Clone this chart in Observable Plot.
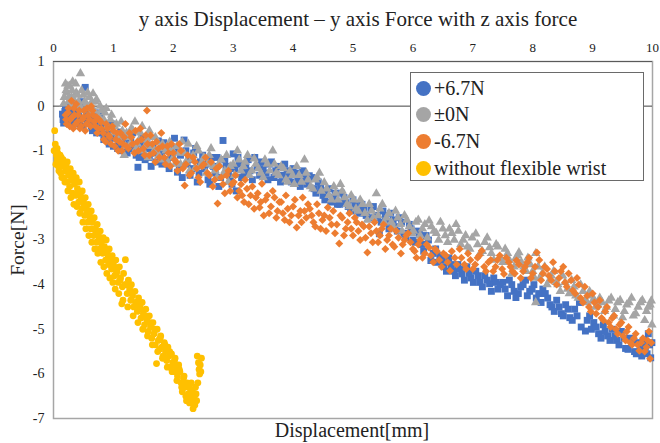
<!DOCTYPE html>
<html>
<head>
<meta charset="utf-8">
<script src="https://cdn.jsdelivr.net/npm/d3@7"></script>
<script src="https://cdn.jsdelivr.net/npm/@observablehq/plot@0.6"></script>
<style>
  html, body { margin: 0; padding: 0; background: #fff; }
  #wrap { position: relative; width: 660px; height: 443px; color: #222; }
  #wrap, #wrap div, #wrap svg, #wrap svg text { font-family: "Liberation Serif", "Times New Roman", Times, "DejaVu Serif", serif !important; }
  #title { position: absolute; left: 0; width: 716px; top: 7px; text-align: center; font-size: 21px; white-space: nowrap; }
  #xlabel { position: absolute; left: 252px; width: 200px; top: 419px; text-align: center; font-size: 20px; white-space: nowrap; }
  #ylabel { position: absolute; left: 18px; top: 240px; font-size: 19.5px; white-space: nowrap; transform: translate(-50%, -50%) rotate(-90deg); }
  #legend { position: absolute; left: 410px; top: 72px; width: 234px; height: 109px; border: 1px solid #6a6a6a; background: #fff; box-sizing: border-box; }
  .li { position: absolute; left: 5px; height: 26px; display: flex; align-items: center; font-size: 20px; white-space: nowrap; }
  .li span.m { display: inline-block; width: 15px; height: 15px; border-radius: 50%; margin-right: 3px; }
</style>
</head>
<body>
<div id="wrap">
  <div id="chart"></div>
  <div id="title"></div>
  <div id="xlabel"></div>
  <div id="ylabel"></div>
  <div id="legend"></div>
</div>
<script>
const titleText = "y axis Displacement – y axis Force with z axis force";
const xLabel = "Displacement[mm]";
const yLabel = "Force[N]";
const xTicks = [0,1,2,3,4,5,6,7,8,9,10];
const yTicks = [1,0,-1,-2,-3,-4,-5,-6,-7];
const seriesNames = ["+6.7N", "±0N", "-6.7N", "without flexible wrist"];
const seriesColors = ["#4472C4", "#A5A5A5", "#ED7D31", "#FFC000"];

const plus67 = [[0.15,-0.18],[0.17,-0.38],[0.2,0.0],[0.22,-0.25],[0.25,-0.1],[0.28,-0.4],[0.3,-0.2],[0.33,0.05],[0.36,-0.3],[0.4,-0.12],[0.43,-0.35],[0.46,0.1],[0.5,-0.28],[0.53,0.42],[0.56,-0.38],[0.6,-0.2],[0.63,-0.45],[0.67,-0.3],[0.7,-0.15],[0.74,-0.5],[0.78,-0.35],[0.82,-0.6],[0.86,-0.42],[0.9,-0.7],[0.95,-0.55],[1.0,-0.9],[1.05,-0.65],[1.1,-0.8],[1.15,-1.0],[1.2,-0.7],[1.26,-0.95],[1.32,-0.6],[1.38,-1.1],[1.41,-1.37],[1.45,-0.85],[1.5,-1.0],[1.56,-0.75],[1.6,-1.15],[1.66,-0.9],[1.72,-1.25],[1.78,-1.05],[1.84,-0.82],[1.9,-1.2],[1.96,-1.0],[2.02,-0.72],[2.07,-1.48],[2.12,-1.1],[2.18,-0.76],[2.23,-1.3],[2.28,-1.55],[2.34,-1.05],[2.4,-1.7],[2.45,-1.25],[2.52,-1.4],[2.58,-1.65],[2.64,-1.15],[2.7,-1.5],[2.76,-1.8],[2.83,-0.77],[2.88,-1.35],[2.95,-1.6],[3.0,-1.07],[3.05,-1.9],[3.1,-1.3],[3.18,-1.5],[3.25,-1.2],[3.32,-1.65],[3.4,-1.37],[3.47,-1.25],[3.55,-1.5],[3.6,-1.3],[3.68,-1.6],[3.75,-1.35],[3.82,-1.55],[3.9,-1.45],[3.97,-1.7],[4.05,-1.5],[4.12,-1.8],[4.2,-1.6],[4.27,-1.56],[4.35,-1.85],[4.42,-1.7],[4.5,-2.0],[4.56,-1.9],[4.63,-2.15],[4.7,-1.95],[4.78,-2.2],[4.85,-2.05],[4.92,-2.25],[5.0,-2.1],[5.08,-2.35],[5.15,-2.2],[5.22,-2.45],[5.3,-2.3],[5.38,-2.5],[5.44,-2.86],[5.5,-2.35],[5.57,-2.6],[5.63,-2.4],[5.7,-2.7],[5.77,-2.5],[5.85,-2.85],[5.94,-2.65],[6.0,-3.0],[6.08,-2.8],[6.15,-3.1],[6.22,-2.9],[6.3,-3.46],[6.38,-3.2],[6.45,-3.35],[6.52,-3.6],[6.6,-3.4],[6.68,-3.7],[6.75,-3.55],[6.82,-3.76],[6.9,-3.6],[6.97,-3.85],[7.05,-3.7],[7.12,-3.95],[7.2,-3.8],[7.28,-3.98],[7.35,-3.85],[7.42,-4.1],[7.5,-3.95],[7.58,-4.25],[7.65,-4.0],[7.72,-4.29],[7.8,-4.05],[7.88,-3.9],[7.95,-4.15],[8.02,-4.0],[8.1,-4.2],[8.17,-4.1],[8.25,-4.3],[8.32,-4.5],[8.4,-4.35],[8.48,-4.65],[8.55,-4.45],[8.62,-4.74],[8.7,-4.55],[8.78,-4.4],[8.88,-5.04],[8.95,-4.7],[9.02,-4.85],[9.1,-5.1],[9.18,-4.9],[9.25,-5.15],[9.33,-5.0],[9.4,-5.25],[9.48,-5.05],[9.55,-5.43],[9.62,-5.2],[9.7,-5.5],[9.76,-5.3],[9.82,-5.6],[9.88,-5.4],[9.93,-5.1],[9.97,-5.64],[9.99,-5.3],
[0.16,-0.3],[0.19,-0.12],[0.24,-0.35],[0.27,0.02],[0.31,-0.42],[0.35,-0.15],[0.38,-0.4],[0.42,-0.22],[0.45,-0.05],[0.49,-0.45],[0.55,-0.12],[0.58,-0.32],[0.62,-0.1],[0.65,-0.55],[0.69,-0.38],[0.72,-0.6],[0.77,-0.2],[0.8,-0.45],[0.84,-0.75],[0.88,-0.55],[0.93,-0.85],[0.97,-0.4],[1.02,-0.72],[1.07,-0.95],[1.12,-0.58],[1.18,-0.85],[1.23,-1.05],[1.29,-0.78],[1.35,-0.9],[1.43,-1.15],[1.48,-0.7],[1.53,-1.2],[1.58,-0.95],[1.63,-1.35],[1.69,-1.05],[1.75,-0.78],[1.81,-1.3],[1.87,-1.0],[1.93,-1.4],[1.99,-1.15],[2.05,-0.95],[2.1,-1.35],[2.15,-1.6],[2.21,-1.0],[2.26,-1.2],[2.31,-1.4],[2.37,-0.95],[2.43,-1.5],[2.49,-1.1],[2.55,-1.3],[2.61,-1.75],[2.67,-1.35],[2.73,-1.15],[2.79,-1.6],[2.86,-1.2],[2.92,-1.45],[2.98,-1.75],[3.03,-1.4],[3.08,-1.15],[3.14,-1.6],[3.21,-1.35],[3.28,-1.45],[3.36,-1.15],[3.44,-1.55],[3.5,-1.4],[3.58,-1.65],[3.64,-1.25],[3.71,-1.45],[3.79,-1.7],[3.86,-1.3],[3.93,-1.55],[4.0,-1.4],[4.08,-1.65],[4.16,-1.45],[4.23,-1.75],[4.31,-1.6],[4.38,-1.95],[4.46,-1.8],[4.53,-2.1],[4.6,-1.85],[4.67,-2.05],[4.74,-2.2],[4.81,-1.95],[4.88,-2.15],[4.96,-2.35],[5.04,-2.2],[5.11,-2.4],[5.18,-2.3],[5.26,-2.5],[5.34,-2.25],[5.41,-2.45],[5.47,-2.6],[5.54,-2.45],[5.6,-2.75],[5.67,-2.55],[5.74,-2.8],[5.81,-2.6],[5.88,-2.95],[5.97,-2.75],[6.04,-3.05],[6.11,-2.85],[6.18,-3.25],[6.26,-3.0],[6.34,-3.3],[6.41,-3.5],[6.49,-3.45],[6.56,-3.7],[6.64,-3.55],[6.71,-3.8],[6.79,-3.65],[6.86,-3.9],[6.94,-3.75],[7.01,-3.95],[7.09,-3.8],[7.16,-4.05],[7.24,-3.9],[7.31,-4.15],[7.39,-3.95],[7.46,-4.0],[7.54,-4.1],[7.61,-3.9],[7.69,-4.15],[7.76,-4.2],[7.84,-4.0],[7.91,-4.25],[7.99,-4.1],[8.06,-4.3],[8.14,-4.4],[8.21,-4.2],[8.29,-4.45],[8.36,-4.6],[8.44,-4.5],[8.51,-4.7],[8.59,-4.55],[8.66,-4.8],[8.74,-4.7],[8.81,-4.95],[8.91,-4.8],[8.98,-5.0],[9.06,-4.95],[9.14,-5.2],[9.21,-5.05],[9.29,-5.25],[9.37,-5.15],[9.44,-5.35],[9.52,-5.2],[9.59,-5.45],[9.66,-5.3],[9.73,-5.55],[9.8,-5.45],[9.86,-5.25],[9.91,-5.55],[9.95,-5.35]];

const zero = [[0.18,0.2],[0.2,0.5],[0.22,0.3],[0.25,0.1],[0.27,0.45],[0.3,0.2],[0.32,0.55],[0.35,0.0],[0.38,0.3],[0.42,0.1],[0.45,0.73],[0.48,-0.1],[0.5,0.25],[0.55,0.05],[0.6,0.2],[0.62,-0.15],[0.66,0.28],[0.7,0.1],[0.74,-0.2],[0.78,0.0],[0.82,-0.35],[0.86,-0.15],[0.9,-0.45],[0.95,-0.3],[1.0,-0.6],[1.05,-0.4],[1.1,-0.75],[1.15,-0.55],[1.2,-0.9],[1.25,-0.7],[1.3,-0.5],[1.36,-0.35],[1.4,-0.85],[1.45,-0.6],[1.5,-1.0],[1.55,-0.75],[1.6,-0.55],[1.65,-0.9],[1.7,-0.7],[1.76,-1.1],[1.82,-0.85],[1.88,-1.0],[1.94,-0.8],[2.0,-1.15],[2.06,-0.9],[2.12,-1.3],[2.18,-1.05],[2.25,-0.85],[2.3,-1.2],[2.36,-1.4],[2.42,-1.0],[2.48,-1.25],[2.55,-1.5],[2.6,-1.1],[2.67,-1.35],[2.73,-1.6],[2.8,-1.2],[2.86,-1.45],[2.92,-1.7],[3.0,-1.3],[3.07,-1.0],[3.13,-1.45],[3.2,-1.25],[3.27,-1.55],[3.35,-1.18],[3.42,-1.4],[3.5,-1.6],[3.57,-1.3],[3.66,-1.0],[3.72,-1.5],[3.8,-1.35],[3.88,-1.65],[3.95,-1.45],[4.02,-1.75],[4.1,-1.55],[4.19,-1.2],[4.25,-1.65],[4.33,-1.85],[4.4,-1.6],[4.47,-1.9],[4.52,-1.71],[4.6,-2.0],[4.68,-1.8],[4.75,-2.1],[4.82,-1.9],[4.9,-2.2],[4.97,-2.0],[5.05,-2.3],[5.12,-2.1],[5.2,-2.4],[5.27,-2.2],[5.34,-2.5],[5.39,-1.96],[5.45,-2.3],[5.52,-2.6],[5.6,-2.4],[5.67,-2.7],[5.75,-2.5],[5.82,-2.8],[5.9,-2.55],[5.98,-2.85],[6.05,-2.6],[6.12,-2.9],[6.2,-2.65],[6.27,-2.57],[6.35,-2.8],[6.43,-3.0],[6.5,-2.75],[6.58,-3.05],[6.65,-2.85],[6.72,-2.65],[6.8,-3.1],[6.88,-2.9],[6.95,-3.2],[7.05,-2.86],[7.12,-3.3],[7.2,-3.05],[7.28,-3.17],[7.35,-3.45],[7.42,-3.15],[7.5,-3.5],[7.58,-3.3],[7.65,-3.76],[7.72,-3.4],[7.77,-3.28],[7.85,-3.6],[7.92,-3.4],[8.0,-3.7],[8.05,-3.3],[8.05,-4.4],[8.12,-3.85],[8.2,-3.6],[8.28,-3.9],[8.35,-3.7],[8.42,-4.0],[8.5,-3.8],[8.58,-4.1],[8.65,-3.9],[8.72,-4.25],[8.8,-4.0],[8.88,-4.35],[8.95,-4.15],[9.0,-4.36],[9.05,-4.5],[9.12,-4.3],[9.2,-4.6],[9.27,-4.36],[9.35,-4.7],[9.42,-4.4],[9.5,-4.74],[9.57,-4.45],[9.65,-4.3],[9.72,-4.65],[9.8,-4.4],[9.87,-4.8],[9.93,-4.5],[9.98,-4.36],[9.99,-4.9],
[0.17,0.05],[0.21,0.35],[0.24,0.45],[0.26,0.2],[0.29,0.0],[0.31,0.35],[0.34,0.15],[0.37,0.5],[0.4,0.25],[0.44,0.0],[0.47,0.35],[0.52,0.1],[0.57,0.3],[0.59,-0.05],[0.64,0.1],[0.68,-0.1],[0.72,0.15],[0.76,-0.25],[0.8,-0.1],[0.84,-0.3],[0.88,-0.05],[0.92,-0.5],[0.97,-0.2],[1.02,-0.45],[1.08,-0.65],[1.13,-0.35],[1.18,-1.1],[1.22,-0.6],[1.28,-0.85],[1.33,-0.55],[1.38,-0.95],[1.43,-0.75],[1.48,-0.45],[1.53,-0.9],[1.58,-1.15],[1.63,-0.7],[1.68,-1.0],[1.73,-0.8],[1.79,-1.2],[1.85,-0.95],[1.91,-1.25],[1.97,-0.95],[2.03,-1.3],[2.09,-1.05],[2.15,-0.8],[2.21,-1.25],[2.27,-1.45],[2.33,-1.1],[2.39,-0.9],[2.45,-1.35],[2.51,-1.15],[2.57,-1.3],[2.63,-0.95],[2.7,-1.45],[2.76,-1.3],[2.83,-1.55],[2.89,-1.1],[2.95,-1.35],[3.02,-1.55],[3.1,-1.2],[3.17,-1.35],[3.24,-1.1],[3.31,-1.45],[3.38,-1.3],[3.46,-1.5],[3.53,-1.2],[3.61,-1.45],[3.69,-1.3],[3.76,-1.55],[3.84,-1.4],[3.91,-1.7],[3.99,-1.55],[4.06,-1.35],[4.14,-1.7],[4.22,-1.5],[4.29,-1.8],[4.37,-1.65],[4.44,-1.5],[4.56,-1.85],[4.64,-2.1],[4.71,-1.95],[4.79,-1.75],[4.86,-2.05],[4.94,-2.25],[5.01,-2.1],[5.09,-2.35],[5.16,-2.2],[5.24,-2.55],[5.31,-2.35],[5.42,-2.45],[5.49,-2.2],[5.56,-2.5],[5.64,-2.6],[5.71,-2.35],[5.79,-2.65],[5.86,-2.45],[5.94,-2.7],[6.01,-2.8],[6.09,-2.55],[6.16,-2.75],[6.24,-2.95],[6.31,-2.7],[6.39,-2.85],[6.46,-2.6],[6.54,-2.9],[6.61,-2.75],[6.69,-3.0],[6.76,-2.8],[6.84,-3.0],[6.91,-3.15],[6.99,-2.95],[7.08,-3.1],[7.16,-3.25],[7.24,-2.95],[7.31,-3.3],[7.39,-3.1],[7.46,-3.4],[7.54,-3.2],[7.61,-3.45],[7.69,-3.6],[7.75,-3.35],[7.81,-3.5],[7.89,-3.7],[7.96,-3.55],[8.03,-3.85],[8.09,-3.6],[8.16,-3.75],[8.24,-4.0],[8.31,-3.8],[8.39,-3.95],[8.46,-4.15],[8.54,-3.95],[8.61,-4.2],[8.69,-4.05],[8.76,-4.3],[8.84,-4.15],[8.91,-4.4],[8.98,-4.25],[9.03,-4.35],[9.09,-4.45],[9.16,-4.4],[9.23,-4.5],[9.31,-4.3],[9.38,-4.55],[9.46,-4.35],[9.53,-4.6],[9.61,-4.4],[9.68,-4.7],[9.76,-4.5],[9.83,-4.35],[9.9,-4.6],[9.96,-4.45]];

const minus67 = [[0.2,-0.2],[0.22,-0.4],[0.25,-0.05],[0.28,-0.3],[0.3,0.12],[0.33,-0.5],[0.35,-0.2],[0.38,0.05],[0.4,-0.35],[0.43,-0.1],[0.46,-0.45],[0.5,-0.25],[0.53,-0.55],[0.56,-0.05],[0.6,-0.3],[0.63,0.0],[0.66,-0.2],[0.7,-0.45],[0.73,-0.6],[0.76,-0.3],[0.8,-0.5],[0.84,-0.75],[0.88,-0.4],[0.92,-0.65],[0.96,-0.85],[1.0,-0.55],[1.04,-0.75],[1.08,-1.0],[1.12,-0.6],[1.16,-0.85],[1.2,-0.4],[1.25,-0.95],[1.3,-0.7],[1.35,-1.05],[1.4,-0.8],[1.45,-0.5],[1.5,-0.95],[1.54,-0.65],[1.56,-0.1],[1.6,-1.1],[1.65,-0.85],[1.7,-1.25],[1.75,-0.95],[1.8,-0.6],[1.85,-1.15],[1.9,-0.9],[1.95,-1.35],[2.0,-1.05],[2.05,-1.25],[2.1,-0.85],[2.16,-1.4],[2.19,-1.78],[2.24,-1.1],[2.3,-1.5],[2.36,-1.25],[2.42,-1.6],[2.48,-1.35],[2.54,-1.15],[2.6,-1.55],[2.66,-1.8],[2.72,-1.4],[2.74,-2.18],[2.8,-1.6],[2.86,-1.95],[2.92,-1.45],[2.98,-1.75],[3.04,-1.55],[3.1,-1.9],[3.15,-2.0],[3.2,-1.65],[3.26,-2.2],[3.32,-1.8],[3.38,-2.05],[3.44,-2.27],[3.48,-1.74],[3.54,-2.1],[3.6,-2.4],[3.66,-1.9],[3.72,-2.5],[3.77,-2.15],[3.83,-2.4],[3.88,-2.0],[3.94,-2.6],[4.0,-2.25],[4.06,-2.72],[4.12,-2.35],[4.16,-2.05],[4.22,-2.5],[4.28,-2.3],[4.34,-2.6],[4.4,-2.2],[4.46,-2.75],[4.52,-2.45],[4.58,-2.27],[4.64,-2.65],[4.7,-2.85],[4.77,-3.08],[4.82,-2.5],[4.88,-2.75],[4.94,-2.4],[5.0,-2.9],[5.06,-2.6],[5.12,-3.0],[5.18,-2.7],[5.24,-3.28],[5.3,-2.85],[5.36,-2.6],[5.42,-3.05],[5.48,-2.75],[5.54,-3.2],[5.6,-2.9],[5.66,-3.1],[5.72,-2.8],[5.8,-3.3],[5.86,-3.0],[5.92,-2.85],[6.0,-3.2],[6.06,-3.4],[6.12,-3.0],[6.2,-3.3],[6.27,-3.17],[6.34,-3.5],[6.4,-3.25],[6.48,-3.6],[6.55,-3.35],[6.62,-3.69],[6.7,-3.4],[6.78,-3.2],[6.86,-3.55],[6.92,-3.3],[7.0,-3.65],[7.08,-3.4],[7.15,-3.24],[7.22,-3.7],[7.3,-3.45],[7.38,-3.6],[7.45,-3.35],[7.52,-3.76],[7.6,-3.5],[7.66,-3.7],[7.73,-3.46],[7.8,-3.85],[7.87,-3.6],[7.94,-3.4],[8.0,-3.75],[8.07,-3.28],[8.14,-3.9],[8.2,-3.6],[8.27,-3.8],[8.34,-3.5],[8.4,-4.0],[8.47,-3.7],[8.54,-3.95],[8.6,-3.75],[8.67,-4.13],[8.74,-3.85],[8.8,-4.3],[8.87,-4.05],[8.94,-4.5],[9.0,-4.2],[9.06,-4.65],[9.12,-4.35],[9.18,-4.8],[9.24,-4.5],[9.3,-4.95],[9.36,-4.7],[9.42,-5.1],[9.48,-4.85],[9.55,-5.25],[9.6,-4.95],[9.66,-5.35],[9.72,-5.1],[9.78,-5.48],[9.84,-5.2],[9.9,-5.4],[9.94,-5.05],[9.96,-5.66],[9.98,-5.3],
[0.21,-0.3],[0.24,-0.15],[0.27,-0.45],[0.31,-0.25],[0.34,-0.05],[0.37,-0.4],[0.41,-0.2],[0.44,-0.5],[0.48,-0.3],[0.51,-0.1],[0.55,-0.4],[0.58,-0.2],[0.62,-0.45],[0.65,-0.1],[0.68,-0.35],[0.72,-0.25],[0.75,-0.5],[0.79,-0.35],[0.83,-0.6],[0.87,-0.8],[0.9,-0.5],[0.94,-0.7],[0.98,-0.45],[1.02,-0.9],[1.06,-0.6],[1.1,-0.8],[1.14,-1.0],[1.18,-0.7],[1.22,-0.9],[1.27,-0.6],[1.32,-0.85],[1.37,-0.55],[1.42,-1.0],[1.47,-0.75],[1.52,-1.1],[1.57,-0.85],[1.62,-0.65],[1.67,-1.05],[1.72,-0.8],[1.77,-1.15],[1.82,-0.9],[1.87,-1.3],[1.92,-1.05],[1.97,-0.85],[2.02,-1.2],[2.07,-1.45],[2.13,-1.0],[2.21,-1.3],[2.27,-1.55],[2.33,-1.15],[2.39,-1.4],[2.45,-1.7],[2.51,-1.3],[2.57,-1.5],[2.63,-1.25],[2.69,-1.65],[2.77,-1.35],[2.83,-1.75],[2.89,-1.55],[2.95,-1.9],[3.01,-1.7],[3.07,-2.05],[3.13,-1.75],[3.18,-2.15],[3.23,-1.85],[3.29,-2.0],[3.35,-2.3],[3.41,-1.95],[3.46,-2.15],[3.51,-2.45],[3.57,-2.0],[3.63,-2.25],[3.69,-2.05],[3.74,-2.35],[3.8,-2.15],[3.86,-2.55],[3.91,-2.3],[3.97,-2.45],[4.03,-2.1],[4.09,-2.45],[4.14,-2.6],[4.19,-2.35],[4.25,-2.2],[4.31,-2.45],[4.37,-2.7],[4.43,-2.4],[4.49,-2.55],[4.55,-2.8],[4.61,-2.5],[4.67,-2.35],[4.73,-2.65],[4.79,-2.45],[4.85,-2.9],[4.91,-2.6],[4.97,-2.75],[5.03,-2.5],[5.09,-2.8],[5.15,-2.65],[5.21,-2.95],[5.27,-2.7],[5.33,-3.05],[5.39,-2.8],[5.45,-2.9],[5.51,-2.65],[5.57,-3.0],[5.63,-2.75],[5.69,-3.15],[5.76,-2.95],[5.83,-3.1],[5.89,-2.9],[5.96,-3.05],[6.03,-3.25],[6.09,-3.1],[6.16,-3.4],[6.23,-3.1],[6.3,-3.35],[6.37,-3.2],[6.44,-3.45],[6.51,-3.3],[6.58,-3.5],[6.65,-3.25],[6.73,-3.55],[6.81,-3.4],[6.89,-3.65],[6.96,-3.45],[7.04,-3.55],[7.11,-3.35],[7.19,-3.6],[7.26,-3.5],[7.34,-3.7],[7.41,-3.45],[7.49,-3.65],[7.56,-3.4],[7.63,-3.6],[7.7,-3.75],[7.77,-3.55],[7.84,-3.7],[7.91,-3.5],[7.97,-3.85],[8.04,-3.6],[8.11,-3.45],[8.17,-3.75],[8.24,-3.65],[8.31,-3.9],[8.37,-3.7],[8.44,-3.85],[8.51,-3.6],[8.57,-4.05],[8.64,-3.9],[8.71,-4.2],[8.77,-4.0],[8.84,-4.4],[8.91,-4.25],[8.97,-4.6],[9.03,-4.4],[9.09,-4.5],[9.15,-4.75],[9.21,-4.6],[9.27,-4.85],[9.33,-4.75],[9.39,-5.0],[9.45,-4.9],[9.51,-5.15],[9.57,-5.05],[9.63,-5.3],[9.69,-5.2],[9.75,-5.35],[9.81,-5.3],[9.87,-5.5],[9.92,-5.25]];

const noWrist = [[0.02,-0.55],[0.03,-0.85],[0.05,-1.1],[0.06,-1.2],[0.08,-1.35],[0.07,-1.05],[0.1,-1.25],[0.12,-1.5],[0.13,-1.15],[0.15,-1.35],[0.17,-1.6],[0.18,-1.3],[0.2,-1.45],[0.22,-1.7],[0.23,-1.25],[0.25,-1.55],[0.27,-1.8],[0.28,-1.4],[0.3,-1.65],[0.32,-1.95],[0.33,-1.5],[0.35,-1.75],[0.37,-2.0],[0.38,-1.6],[0.4,-1.85],[0.42,-2.15],[0.43,-1.7],[0.45,-2.0],[0.47,-2.3],[0.48,-1.9],[0.5,-2.15],[0.52,-2.45],[0.53,-2.05],[0.55,-2.3],[0.57,-2.6],[0.58,-2.2],[0.6,-2.45],[0.62,-2.75],[0.63,-2.35],[0.65,-2.6],[0.67,-2.9],[0.68,-2.5],[0.7,-2.75],[0.72,-3.05],[0.73,-2.65],[0.75,-2.9],[0.77,-3.2],[0.78,-2.8],[0.8,-3.05],[0.82,-3.3],[0.83,-2.95],[0.85,-3.15],[0.87,-3.45],[0.88,-3.0],[0.9,-3.3],[0.92,-3.55],[0.93,-3.2],[0.95,-3.4],[0.97,-3.65],[0.98,-3.35],[1.0,-3.55],[1.02,-3.8],[1.04,-3.45],[1.06,-3.7],[1.08,-3.95],[1.1,-3.6],[1.12,-3.85],[1.14,-4.43],[1.15,-4.05],[1.17,-3.75],[1.2,-3.44],[1.21,-4.0],[1.23,-4.2],[1.25,-3.9],[1.27,-4.1],[1.29,-4.35],[1.3,-4.0],[1.32,-4.25],[1.34,-4.5],[1.36,-4.15],[1.38,-4.4],[1.4,-4.6],[1.42,-4.3],[1.44,-4.5],[1.46,-4.75],[1.48,-4.4],[1.5,-4.65],[1.52,-4.9],[1.54,-4.55],[1.56,-4.8],[1.58,-5.05],[1.6,-4.7],[1.62,-4.95],[1.64,-5.2],[1.66,-4.85],[1.68,-5.1],[1.7,-5.35],[1.72,-5.77],[1.73,-5.0],[1.75,-5.25],[1.77,-5.45],[1.79,-5.15],[1.81,-5.4],[1.83,-5.6],[1.85,-5.3],[1.87,-5.5],[1.89,-5.7],[1.91,-5.4],[1.93,-5.6],[1.95,-5.85],[1.97,-5.55],[1.99,-5.75],[2.01,-5.95],[2.03,-5.65],[2.05,-5.85],[2.07,-6.05],[2.09,-5.8],[2.11,-5.95],[2.13,-6.2],[2.15,-6.4],[2.17,-6.1],[2.19,-6.3],[2.21,-6.5],[2.23,-6.2],[2.25,-6.45],[2.27,-6.65],[2.29,-6.35],[2.31,-6.55],[2.33,-6.78],[2.35,-6.5],[2.37,-6.3],[2.39,-6.6],[2.4,-5.6],[2.42,-5.75],[2.44,-6.0],[2.45,-5.8],[2.47,-5.65],[2.36,-6.7],[2.3,-6.2],
[0.01,-1.0],[0.04,-1.3],[0.06,-0.95],[0.09,-1.45],[0.11,-1.1],[0.14,-1.6],[0.16,-1.2],[0.19,-1.7],[0.21,-1.35],[0.24,-1.9],[0.26,-1.5],[0.29,-2.05],[0.31,-1.55],[0.34,-2.2],[0.36,-1.65],[0.39,-2.25],[0.41,-1.95],[0.44,-2.4],[0.46,-2.05],[0.49,-2.6],[0.51,-2.2],[0.54,-2.75],[0.56,-2.4],[0.59,-2.9],[0.61,-2.5],[0.64,-3.05],[0.66,-2.75],[0.69,-3.2],[0.71,-2.85],[0.74,-3.3],[0.76,-3.0],[0.79,-3.5],[0.81,-3.15],[0.84,-3.6],[0.86,-3.25],[0.89,-3.75],[0.91,-3.4],[0.94,-3.85],[0.96,-3.5],[0.99,-3.95],[1.01,-3.6],[1.03,-4.1],[1.05,-3.75],[1.09,-4.2],[1.11,-3.9],[1.16,-4.35],[1.19,-4.0],[1.24,-4.5],[1.28,-4.15],[1.33,-4.7],[1.37,-4.4],[1.41,-4.85],[1.45,-4.55],[1.49,-5.0],[1.53,-4.7],[1.57,-5.15],[1.61,-4.85],[1.65,-5.35],[1.69,-5.0],[1.74,-5.5],[1.78,-5.2],[1.82,-5.65],[1.86,-5.35],[1.9,-5.85],[1.94,-5.5],[1.98,-5.95],[2.02,-5.7],[2.06,-6.15],[2.1,-5.9],[2.14,-6.3],[2.18,-6.05],[2.22,-6.6],[2.26,-6.3],[2.28,-6.55],[2.32,-6.4],[2.34,-6.65],[2.38,-6.45],[2.41,-6.2],[2.43,-5.9],[2.46,-5.95]];

const fx = d => d[0], fy = d => d[1];
const chart = Plot.plot({
  width: 660, height: 443,
  marginLeft: 53, marginRight: 8, marginTop: 61, marginBottom: 25,
  style: { background: "transparent", color: "#222" },
  x: { domain: [0, 10] },
  y: { domain: [-7, 1] },
  marks: [
    Plot.frame({ stroke: "#a6a6a6", strokeWidth: 1.5 }),
    Plot.ruleY([1], { stroke: "#5a5a5a", strokeWidth: 1 }),
    Plot.ruleY([0], { stroke: "#404040", strokeWidth: 1 }),
    Plot.axisX(xTicks, { anchor: "top", tickSize: 0, tickPadding: 10, fontSize: 13, label: null, tickFormat: d => String(d) }),
    Plot.axisY(yTicks, { anchor: "left", tickSize: 0, tickPadding: 9, fontSize: 14, label: null, tickFormat: d => String(d) }),
    Plot.dot(plus67, { x: fx, y: fy, symbol: "square", r: 3.9, fill: seriesColors[0] }),
    Plot.dot(zero, { x: fx, y: fy, symbol: "triangle", r: 3.5, fill: seriesColors[1] }),
    Plot.dot(minus67, { x: fx, y: fy, symbol: "diamond2", r: 3.6, fill: seriesColors[2] }),
    Plot.dot(noWrist, { x: fx, y: fy, symbol: "circle", r: 3.4, fill: seriesColors[3] })
  ]
});
document.getElementById("chart").appendChild(chart);
document.getElementById("title").textContent = titleText;
document.getElementById("xlabel").textContent = xLabel;
document.getElementById("ylabel").textContent = yLabel;
const lg = document.getElementById("legend");
seriesNames.forEach((n, i) => {
  const row = document.createElement("div");
  row.className = "li";
  row.style.top = (2 + i * 26.7) + "px";
  const m = document.createElement("span");
  m.className = "m";
  m.style.background = seriesColors[i];
  row.appendChild(m);
  row.appendChild(document.createTextNode(n));
  lg.appendChild(row);
});
</script>
</body>
</html>
